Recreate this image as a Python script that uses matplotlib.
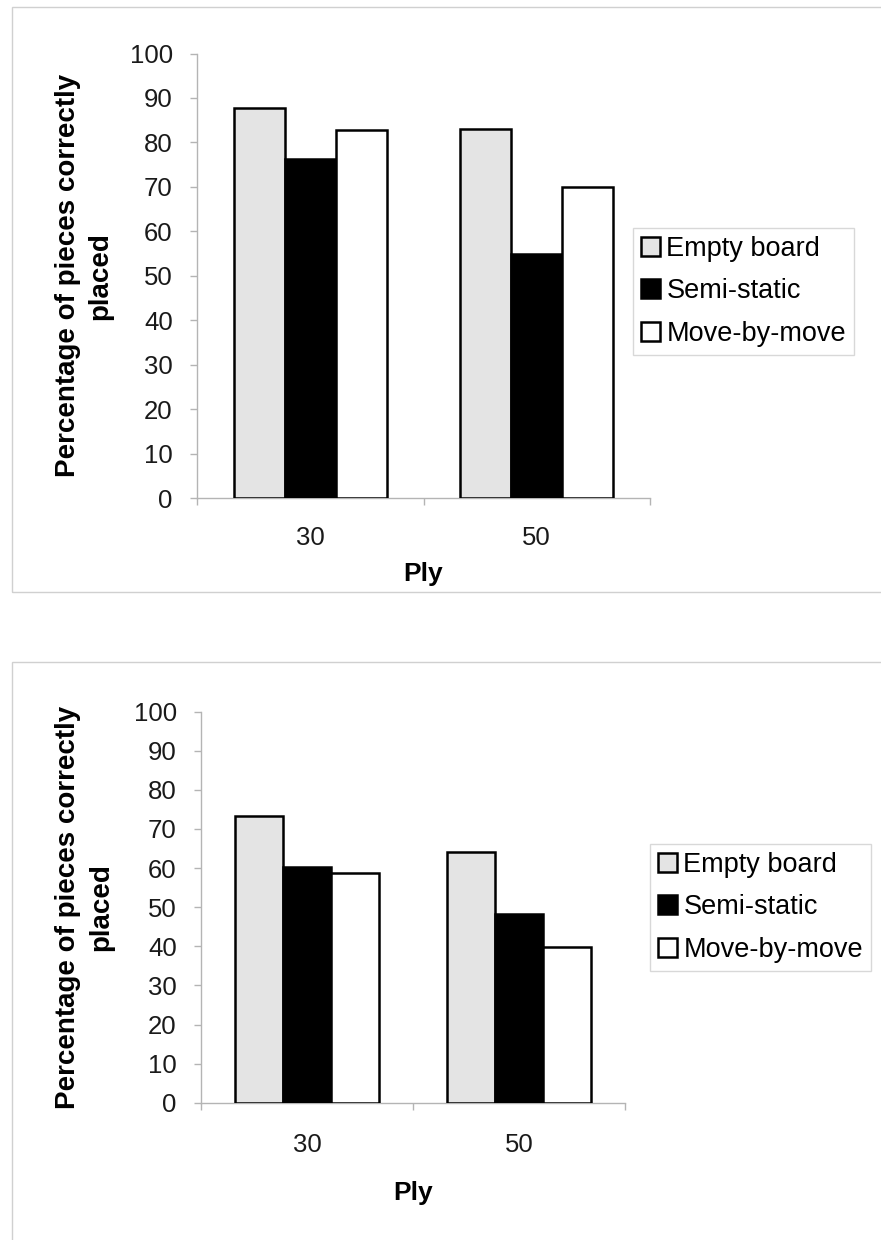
import numpy as np
import matplotlib
matplotlib.use("Agg")
import matplotlib.pyplot as plt
from matplotlib.patches import Rectangle

plt.rcParams["font.family"] = ["Liberation Sans", "DejaVu Sans"]

# data
plies = ["30", "50"]
series = ["Empty board", "Semi-static", "Move-by-move"]

top_empty = [87.8, 83.0]
top_semi = [76.2, 55.0]
top_move = [82.9, 70.0]

bot_empty = [73.4, 64.1]
bot_semi = [60.4, 48.3]
bot_move = [58.7, 39.9]

FILLS = ["#e4e4e4", "#000000", "#ffffff"]
AXCOL = "#b4b4b4"
W, H = 881, 1240


def px_axes(fig, left, right, top, bottom):
    return fig.add_axes([left / W, 1 - bottom / H, (right - left) / W, (bottom - top) / H])


def draw_panel(ax, values, xpad, xlabpad, ylab_x, leg_anchor):
    x = np.arange(len(plies))
    bw = 0.225
    for i, (vals, name) in enumerate(zip(values, series)):
        ax.bar(x + (i - 1) * bw, vals, bw, color=FILLS[i], edgecolor="black",
               linewidth=1.8, label=name, zorder=3)
    ax.set_xlim(-0.5, len(plies) - 0.5)
    ax.set_ylim(0, 100)
    ax.set_yticks(np.arange(0, 101, 10))
    ax.set_xticks(x)
    ax.set_xticklabels(plies)
    ax.set_xticks([-0.5, 0.5, 1.5], minor=True)
    for s in ["top", "right"]:
        ax.spines[s].set_visible(False)
    for s in ["left", "bottom"]:
        ax.spines[s].set_color(AXCOL)
        ax.spines[s].set_linewidth(1.0)
    ax.tick_params(axis="y", direction="out", length=5, width=1, color=AXCOL,
                   labelsize=18.5, pad=12.5, labelcolor="#1a1a1a")
    ax.tick_params(axis="x", which="major", length=0, labelsize=18.5,
                   pad=xpad, labelcolor="#1a1a1a")
    ax.tick_params(axis="x", which="minor", direction="out", length=5,
                   width=1, color=AXCOL)
    ax.set_xlabel("Ply", fontsize=19, fontweight="bold", labelpad=xlabpad)
    ax.set_ylabel("Percentage of pieces correctly\nplaced", fontsize=20,
                  fontweight="bold", linespacing=1.35)
    ax.yaxis.set_label_coords(ylab_x, 0.5)
    leg = ax.legend(loc="upper left", bbox_to_anchor=(leg_anchor[0] / W, 1 - leg_anchor[1] / H),
                    bbox_transform=fig.transFigure, fontsize=19.5, frameon=True,
                    fancybox=False, edgecolor="#cfcfcf", handlelength=0.7,
                    handleheight=0.7, handletextpad=0.25, labelspacing=0.62,
                    borderpad=0.28, borderaxespad=0)
    leg.get_frame().set_linewidth(1.0)


fig = plt.figure(figsize=(W / 100, H / 100), dpi=100)
fig.patch.set_facecolor("white")

# chart-area frames (right/bottom run off the page as in the scan)
fig.add_artist(Rectangle((12 / W, 1 - 592 / H), 1.0, (592 - 7) / H,
                         transform=fig.transFigure, fill=False,
                         edgecolor="#d0d0d0", linewidth=1.0))
fig.add_artist(Rectangle((12 / W, -0.05), 1.0, 0.05 + (H - 662) / H,
                         transform=fig.transFigure, fill=False,
                         edgecolor="#d0d0d0", linewidth=1.0))

ax1 = px_axes(fig, 197, 650, 53.5, 498)
draw_panel(ax1, [top_empty, top_semi, top_move], 20, 9, -0.184, (633, 228))

ax2 = px_axes(fig, 201, 625, 711.7, 1102.7)
draw_panel(ax2, [bot_empty, bot_semi, bot_move], 22, 17, -0.205, (650, 844))

fig.savefig("out.png", dpi=100, facecolor="white")
